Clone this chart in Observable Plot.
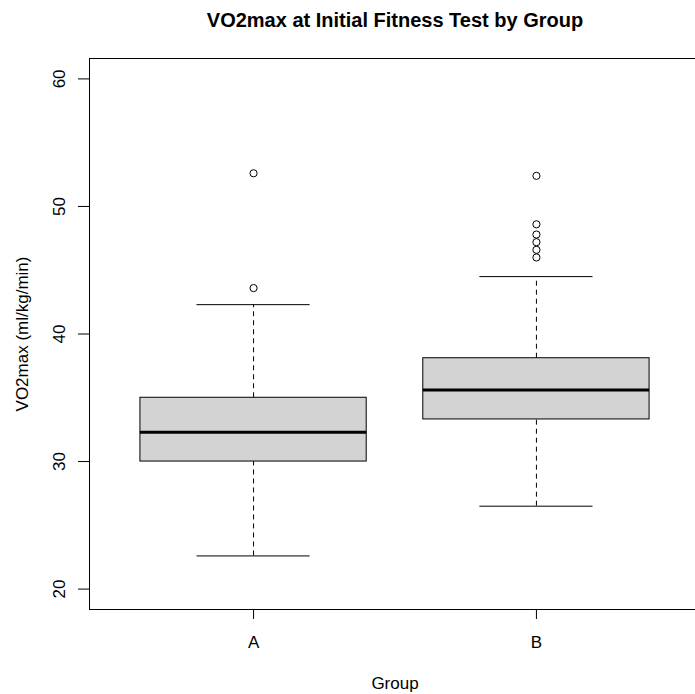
<!DOCTYPE html>
<html>
<head>
<meta charset="utf-8">
<script src="https://cdn.jsdelivr.net/npm/d3@7"></script>
<script src="https://cdn.jsdelivr.net/npm/@observablehq/plot@0.6"></script>
<style>
  html, body { margin: 0; padding: 0; background: #fff; overflow: hidden; }
</style>
</head>
<body>
<div id="chart"></div>
<script>
// ---- data ----
const groups = ["A", "B"];
const lowerWhisker = [22.6, 26.5];
const q1 = [30.0, 33.3];
const median = [32.3, 35.6];
const q3 = [35.0, 38.1];
const upperWhisker = [42.3, 44.5];
const outliersA = [43.6, 52.6];
const outliersB = [46.0, 46.6, 47.2, 47.8, 48.6, 52.4];
const yTicks = [20, 30, 40, 50, 60];
const titleText = "VO2max at Initial Fitness Test by Group";
const xLabel = "Group";
const yLabel = "VO2max (ml/kg/min)";

// ---- tables built from the arrays ----
const stats = groups.map((g, i) => ({
  group: g, pos: i + 1,
  lo: lowerWhisker[i], q1: q1[i], med: median[i], q3: q3[i], hi: upperWhisker[i]
}));
const outliers = [
  ...outliersA.map(v => ({group: "A", pos: 1, value: v})),
  ...outliersB.map(v => ({group: "B", pos: 2, value: v}))
];

const boxHalf = 0.4, capHalf = 0.2;
const font = "'Liberation Sans', Arial, Helvetica, sans-serif";

const chart = Plot.plot({
  width: 700,
  height: 694,
  marginTop: 58,
  marginBottom: 85,
  marginLeft: 89,
  marginRight: 0,
  style: {fontFamily: font, fontSize: "17px", maxWidth: "none", color: "#000", background: "#fff"},
  x: {type: "linear", domain: [0.42, 2.58]},
  y: {type: "linear", domain: [18.4, 61.6]},
  marks: [
    // whiskers (dashed)
    Plot.ruleX(stats, {x: "pos", y1: "q3", y2: "hi", stroke: "#000", strokeWidth: 1, strokeDasharray: "5,4"}),
    Plot.ruleX(stats, {x: "pos", y1: "lo", y2: "q1", stroke: "#000", strokeWidth: 1, strokeDasharray: "5,4"}),
    // whisker caps
    Plot.ruleY(stats, {y: "hi", x1: d => d.pos - capHalf, x2: d => d.pos + capHalf, stroke: "#000", strokeWidth: 1}),
    Plot.ruleY(stats, {y: "lo", x1: d => d.pos - capHalf, x2: d => d.pos + capHalf, stroke: "#000", strokeWidth: 1}),
    // boxes
    Plot.rect(stats, {x1: d => d.pos - boxHalf, x2: d => d.pos + boxHalf, y1: "q1", y2: "q3", fill: "#d3d3d3", stroke: "#000", strokeWidth: 1}),
    // medians
    Plot.ruleY(stats, {y: "med", x1: d => d.pos - boxHalf, x2: d => d.pos + boxHalf, stroke: "#000", strokeWidth: 3}),
    // outliers
    Plot.dot(outliers, {x: "pos", y: "value", r: 3.6, stroke: "#000", strokeWidth: 1, fill: "none"}),
    // frame
    Plot.frame({stroke: "#000", strokeWidth: 1}),
    // axes
    Plot.axisX({ticks: [1, 2], tickFormat: d => groups[d - 1], tickSize: 10, tickPadding: 16, label: null, stroke: "#000", fill: "#000"}),
    Plot.axisY({ticks: yTicks, tickSize: 11, tickFormat: () => "", label: null, stroke: "#000"}),
    Plot.text(yTicks, {y: d => d, text: d => String(d), frameAnchor: "left", rotate: -90, textAnchor: "middle", lineAnchor: "bottom", dx: -24.5, fill: "#000"}),
    // axis titles
    Plot.text([yLabel], {text: d => d, frameAnchor: "left", rotate: -90, textAnchor: "middle", lineAnchor: "bottom", dx: -62, fill: "#000"}),
    Plot.text([xLabel], {text: d => d, frameAnchor: "bottom", lineAnchor: "top", dy: 67, fill: "#000"}),
    // title
    Plot.text([titleText], {text: d => d, frameAnchor: "top", lineAnchor: "bottom", dy: -32, fontSize: 20, fontWeight: "bold", fill: "#000"})
  ]
});
document.getElementById("chart").appendChild(chart);
</script>
</body>
</html>
